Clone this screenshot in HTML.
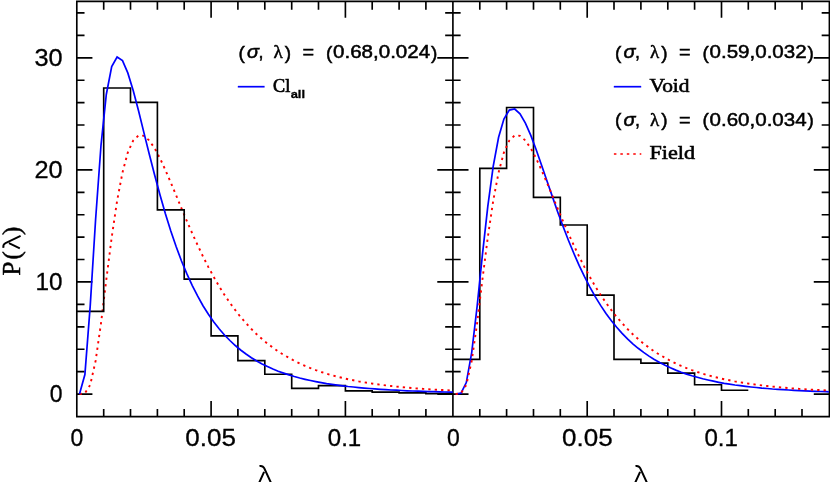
<!DOCTYPE html><html><head><meta charset="utf-8"><style>html,body{margin:0;padding:0;background:#fff;}svg{display:block;will-change:transform;}text{font-family:"Liberation Sans",sans-serif;fill:#000;stroke:#000;stroke-width:0.3px;}.s{font-family:"Liberation Serif",serif;}.lg text{stroke-width:0.5px;}</style></head><body>
<svg width="830" height="482" viewBox="0 0 830 482">
<rect width="830" height="482" fill="#fff"/>
<path d="M76.8 1.3 H829.4 V416.6 H76.8 Z M452.9 1.3 V416.6 M103.7 416.6 v-6.9 M103.7 1.3 v7.6 M130.5 416.6 v-6.9 M130.5 1.3 v7.6 M157.4 416.6 v-6.9 M157.4 1.3 v7.6 M184.2 416.6 v-6.9 M184.2 1.3 v7.6 M211.1 416.6 v-14.8 M211.1 1.3 v15.5 M237.9 416.6 v-6.9 M237.9 1.3 v7.6 M264.8 416.6 v-6.9 M264.8 1.3 v7.6 M291.7 416.6 v-6.9 M291.7 1.3 v7.6 M318.5 416.6 v-6.9 M318.5 1.3 v7.6 M345.4 416.6 v-14.8 M345.4 1.3 v15.5 M372.2 416.6 v-6.9 M372.2 1.3 v7.6 M399.1 416.6 v-6.9 M399.1 1.3 v7.6 M425.9 416.6 v-6.9 M425.9 1.3 v7.6 M479.8 416.6 v-6.9 M479.8 1.3 v7.6 M506.6 416.6 v-6.9 M506.6 1.3 v7.6 M533.5 416.6 v-6.9 M533.5 1.3 v7.6 M560.3 416.6 v-6.9 M560.3 1.3 v7.6 M587.2 416.6 v-14.8 M587.2 1.3 v15.5 M614.0 416.6 v-6.9 M614.0 1.3 v7.6 M640.9 416.6 v-6.9 M640.9 1.3 v7.6 M667.8 416.6 v-6.9 M667.8 1.3 v7.6 M694.6 416.6 v-6.9 M694.6 1.3 v7.6 M721.5 416.6 v-14.8 M721.5 1.3 v15.5 M748.3 416.6 v-6.9 M748.3 1.3 v7.6 M775.2 416.6 v-6.9 M775.2 1.3 v7.6 M802.0 416.6 v-6.9 M802.0 1.3 v7.6 M76.8 394.1 h14.8 M438.1 394.1 h29.6 M829.4 394.1 h-14.8 M76.8 371.6 h6.9 M446.0 371.6 h13.8 M829.4 371.6 h-6.9 M76.8 349.2 h6.9 M446.0 349.2 h13.8 M829.4 349.2 h-6.9 M76.8 326.8 h6.9 M446.0 326.8 h13.8 M829.4 326.8 h-6.9 M76.8 304.4 h6.9 M446.0 304.4 h13.8 M829.4 304.4 h-6.9 M76.8 281.9 h14.8 M438.1 281.9 h29.6 M829.4 281.9 h-14.8 M76.8 259.5 h6.9 M446.0 259.5 h13.8 M829.4 259.5 h-6.9 M76.8 237.1 h6.9 M446.0 237.1 h13.8 M829.4 237.1 h-6.9 M76.8 214.7 h6.9 M446.0 214.7 h13.8 M829.4 214.7 h-6.9 M76.8 192.3 h6.9 M446.0 192.3 h13.8 M829.4 192.3 h-6.9 M76.8 169.8 h14.8 M438.1 169.8 h29.6 M829.4 169.8 h-14.8 M76.8 147.4 h6.9 M446.0 147.4 h13.8 M829.4 147.4 h-6.9 M76.8 125.0 h6.9 M446.0 125.0 h13.8 M829.4 125.0 h-6.9 M76.8 102.6 h6.9 M446.0 102.6 h13.8 M829.4 102.6 h-6.9 M76.8 80.2 h6.9 M446.0 80.2 h13.8 M829.4 80.2 h-6.9 M76.8 57.8 h14.8 M438.1 57.8 h29.6 M829.4 57.8 h-14.8 M76.8 35.3 h6.9 M446.0 35.3 h13.8 M829.4 35.3 h-6.9 M76.8 12.9 h6.9 M446.0 12.9 h13.8 M829.4 12.9 h-6.9" fill="none" stroke="#000" stroke-width="1.65" stroke-linecap="square"/>
<path d="M79.5 394.0 L84.9 393.3 L90.2 384.9 L95.6 360.9 L101.0 323.3 L106.3 279.7 L111.7 237.3 L117.1 200.8 L122.5 172.4 L127.8 152.5 L133.2 140.5 L138.6 135.4 L143.9 135.8 L149.3 140.5 L154.7 148.4 L160.1 158.5 L165.4 170.1 L170.8 182.6 L176.2 195.5 L181.5 208.4 L186.9 221.2 L192.3 233.5 L197.7 245.3 L203.0 256.5 L208.4 267.1 L213.8 277.0 L219.1 286.3 L224.5 294.9 L229.9 302.8 L235.3 310.2 L240.6 317.0 L246.0 323.2 L251.4 329.0 L256.7 334.3 L262.1 339.1 L267.5 343.6 L272.9 347.6 L278.2 351.4 L283.6 354.8 L289.0 357.9 L294.3 360.8 L299.7 363.5 L305.1 365.9 L310.5 368.1 L315.8 370.1 L321.2 372.0 L326.6 373.7 L331.9 375.3 L337.3 376.7 L342.7 378.0 L348.1 379.2 L353.4 380.3 L358.8 381.4 L364.2 382.3 L369.5 383.2 L374.9 384.0 L380.3 384.7 L385.7 385.4 L391.0 386.0 L396.4 386.6 L401.8 387.1 L407.1 387.6 L412.5 388.1 L417.9 388.5 L423.3 388.9 L428.6 389.2 L434.0 389.6 L439.4 389.9 L444.7 390.1 L450.1 390.4 L452.8 390.5" stroke="#ff0000" stroke-width="1.9" stroke-dasharray="2.3 4.1" fill="none"/>
<path d="M76.8 311.4 V311.4 H103.7 V88.0 H130.5 V102.3 H157.4 V209.8 H184.2 V279.1 H211.1 V335.8 H237.9 V360.6 H264.8 V374.2 H291.7 V388.4 H318.5 V385.6 H345.4 V390.9 H372.2 V392.1 H399.1 V392.9 H425.9 V393.6 H452.8" fill="none" stroke="#000" stroke-width="1.65" stroke-linejoin="miter"/>
<path d="M79.5 393.9 L84.9 374.5 L90.2 306.1 L95.6 219.5 L101.0 145.3 L106.3 94.5 L111.7 66.6 L117.1 57.0 L122.5 60.6 L127.8 72.9 L133.2 90.5 L138.6 111.0 L143.9 132.6 L149.3 154.3 L154.7 175.3 L160.1 195.3 L165.4 213.8 L170.8 231.0 L176.2 246.7 L181.5 261.0 L186.9 273.9 L192.3 285.6 L197.7 296.2 L203.0 305.7 L208.4 314.2 L213.8 321.9 L219.1 328.8 L224.5 335.0 L229.9 340.5 L235.3 345.5 L240.6 350.0 L246.0 354.0 L251.4 357.7 L256.7 361.0 L262.1 363.9 L267.5 366.6 L272.9 369.0 L278.2 371.2 L283.6 373.1 L289.0 374.9 L294.3 376.5 L299.7 378.0 L305.1 379.3 L310.5 380.5 L315.8 381.6 L321.2 382.6 L326.6 383.6 L331.9 384.4 L337.3 385.1 L342.7 385.8 L348.1 386.5 L353.4 387.0 L358.8 387.6 L364.2 388.1 L369.5 388.5 L374.9 388.9 L380.3 389.3 L385.7 389.6 L391.0 390.0 L396.4 390.2 L401.8 390.5 L407.1 390.8 L412.5 391.0 L417.9 391.2 L423.3 391.4 L428.6 391.6 L434.0 391.7 L439.4 391.9 L444.7 392.0 L450.1 392.2 L452.8 392.2" stroke="#0000ff" stroke-width="1.7" fill="none" stroke-linejoin="miter"/>
<path d="M452.9 359.3 V359.3 H479.8 V168.3 H506.6 V107.5 H533.5 V197.4 H560.3 V225.0 H587.2 V295.1 H614.0 V359.3 H640.9 V363.1 H667.8 V373.1 H694.6 V384.7 H721.5 V390.2 H748.3" fill="none" stroke="#000" stroke-width="1.65" stroke-linejoin="miter"/>
<path d="M455.6 394.0 L461.0 393.2 L466.3 382.6 L471.7 352.6 L477.1 306.7 L482.4 254.9 L487.8 206.3 L493.2 166.4 L498.6 137.3 L503.9 119.0 L509.3 110.1 L514.7 109.0 L520.0 113.8 L525.4 123.1 L530.8 135.4 L536.2 149.7 L541.5 165.0 L546.9 180.7 L552.3 196.4 L557.6 211.7 L563.0 226.3 L568.4 240.2 L573.8 253.3 L579.1 265.4 L584.5 276.7 L589.9 287.1 L595.2 296.6 L600.6 305.4 L606.0 313.4 L611.4 320.7 L616.7 327.3 L622.1 333.3 L627.5 338.8 L632.8 343.8 L638.2 348.3 L643.6 352.4 L649.0 356.1 L654.3 359.5 L659.7 362.5 L665.1 365.3 L670.4 367.8 L675.8 370.1 L681.2 372.2 L686.6 374.1 L691.9 375.8 L697.3 377.3 L702.7 378.8 L708.0 380.0 L713.4 381.2 L718.8 382.3 L724.2 383.3 L729.5 384.1 L734.9 385.0 L740.3 385.7 L745.6 386.4 L751.0 387.0 L756.4 387.5 L761.8 388.1 L767.1 388.5 L772.5 389.0 L777.9 389.3 L783.2 389.7 L788.6 390.0 L794.0 390.3 L799.4 390.6 L804.7 390.9 L810.1 391.1 L815.5 391.3 L820.8 391.5 L826.2 391.7 L828.9 391.8" stroke="#0000ff" stroke-width="1.7" fill="none" stroke-linejoin="miter"/>
<path d="M455.6 394.0 L461.0 393.3 L466.3 384.9 L471.7 360.9 L477.1 323.3 L482.4 279.7 L487.8 237.3 L493.2 200.8 L498.6 172.4 L503.9 152.5 L509.3 140.5 L514.7 135.4 L520.0 135.8 L525.4 140.5 L530.8 148.4 L536.2 158.5 L541.5 170.1 L546.9 182.6 L552.3 195.5 L557.6 208.4 L563.0 221.2 L568.4 233.5 L573.8 245.3 L579.1 256.5 L584.5 267.1 L589.9 277.0 L595.2 286.3 L600.6 294.9 L606.0 302.8 L611.4 310.2 L616.7 317.0 L622.1 323.2 L627.5 329.0 L632.8 334.3 L638.2 339.1 L643.6 343.6 L649.0 347.6 L654.3 351.4 L659.7 354.8 L665.1 357.9 L670.4 360.8 L675.8 363.5 L681.2 365.9 L686.6 368.1 L691.9 370.1 L697.3 372.0 L702.7 373.7 L708.0 375.3 L713.4 376.7 L718.8 378.0 L724.2 379.2 L729.5 380.3 L734.9 381.4 L740.3 382.3 L745.6 383.2 L751.0 384.0 L756.4 384.7 L761.8 385.4 L767.1 386.0 L772.5 386.6 L777.9 387.1 L783.2 387.6 L788.6 388.1 L794.0 388.5 L799.4 388.9 L804.7 389.2 L810.1 389.6 L815.5 389.9 L820.8 390.1 L826.2 390.4 L828.9 390.5" stroke="#ff0000" stroke-width="1.9" stroke-dasharray="2.3 4.1" fill="none"/>
<path d="M237.8 86.7 H264.6" stroke="#0000ff" stroke-width="1.7" fill="none" stroke-linejoin="miter"/>
<path d="M613.8 86.7 H641.2" stroke="#0000ff" stroke-width="1.7" fill="none" stroke-linejoin="miter"/>
<path d="M613.9 154.0 H641.3" stroke="#ff0000" stroke-width="1.7" stroke-dasharray="2.5 3.95" fill="none"/>
<text x="62.6" y="65.8" font-size="24.2" text-anchor="end" textLength="28.2" lengthAdjust="spacingAndGlyphs">30</text>
<text x="62.6" y="178.0" font-size="24.2" text-anchor="end" textLength="28.2" lengthAdjust="spacingAndGlyphs">20</text>
<text x="62.6" y="290.0" font-size="24.2" text-anchor="end" textLength="27.0" lengthAdjust="spacingAndGlyphs">10</text>
<text x="62.6" y="402.4" font-size="24.2" text-anchor="end" textLength="12.8" lengthAdjust="spacingAndGlyphs">0</text>
<text x="76.8" y="446.4" font-size="24.2" text-anchor="middle" textLength="12.8" lengthAdjust="spacingAndGlyphs">0</text>
<text x="210.6" y="446.4" font-size="24.2" text-anchor="middle" textLength="50.6" lengthAdjust="spacingAndGlyphs">0.05</text>
<text x="344.5" y="446.4" font-size="24.2" text-anchor="middle" textLength="33.5" lengthAdjust="spacingAndGlyphs">0.1</text>
<text x="453.5" y="446.4" font-size="24.2" text-anchor="middle" textLength="12.8" lengthAdjust="spacingAndGlyphs">0</text>
<text x="587.3" y="446.4" font-size="24.2" text-anchor="middle" textLength="50.6" lengthAdjust="spacingAndGlyphs">0.05</text>
<text x="721.2" y="446.4" font-size="24.2" text-anchor="middle" textLength="33.5" lengthAdjust="spacingAndGlyphs">0.1</text>
<path transform="translate(265.0 483.4)" d="M-5.5 -17.4 C-3.2 -17.8 -1.6 -17 -0.8 -15.2 L6.5 0.5 M-0.9 -11.6 L-6.0 -0.3" fill="none" stroke="#000" stroke-width="2" stroke-linecap="butt"/>
<path transform="translate(641.0 483.4)" d="M-5.5 -17.4 C-3.2 -17.8 -1.6 -17 -0.8 -15.2 L6.5 0.5 M-0.9 -11.6 L-6.0 -0.3" fill="none" stroke="#000" stroke-width="2" stroke-linecap="butt"/>
<text class="s" transform="translate(20.2 275.4) rotate(-90)" style="stroke-width:0.5px" font-size="25">P</text>
<text class="s" transform="translate(20.2 259.4) rotate(-90)" style="stroke-width:0.5px" font-size="25">(</text>
<text class="s" transform="translate(20.2 234.9) rotate(-90)" style="stroke-width:0.5px" font-size="25">)</text>
<path transform="translate(20.1 242.3) rotate(-90) scale(1 0.96)" d="M-5.5 -17.4 C-3.2 -17.8 -1.6 -17 -0.8 -15.2 L6.5 0.5 M-0.9 -11.6 L-6.0 -0.3" fill="none" stroke="#000" stroke-width="2" stroke-linecap="butt"/>
<g class="lg" font-size="17.9">
<text x="238.6" y="58.8" font-size="19">(</text>
<text x="246.9" y="58.3" font-style="italic" textLength="12" lengthAdjust="spacingAndGlyphs">σ</text>
<text x="258.6" y="58.3">,</text>
<text x="273.4" y="58.3" class="s" font-size="19">λ</text>
<text x="284.8" y="58.8" font-size="19">)</text>
<text x="302.5" y="58.3" textLength="11.6" lengthAdjust="spacingAndGlyphs">=</text>
<text x="326.1" y="58.8" font-size="19">(</text>
<text x="333.1" y="58.3" textLength="97" lengthAdjust="spacingAndGlyphs">0.68,0.024</text>
<text x="431.1" y="58.8" font-size="19">)</text>
</g>
<g class="lg" font-size="17.9">
<text x="615.1" y="58.8" font-size="19">(</text>
<text x="623.4" y="58.3" font-style="italic" textLength="12" lengthAdjust="spacingAndGlyphs">σ</text>
<text x="635.1" y="58.3">,</text>
<text x="649.9" y="58.3" class="s" font-size="19">λ</text>
<text x="661.3" y="58.8" font-size="19">)</text>
<text x="679.0" y="58.3" textLength="11.6" lengthAdjust="spacingAndGlyphs">=</text>
<text x="702.6" y="58.8" font-size="19">(</text>
<text x="709.6" y="58.3" textLength="97" lengthAdjust="spacingAndGlyphs">0.59,0.032</text>
<text x="807.6" y="58.8" font-size="19">)</text>
</g>
<g class="lg" font-size="17.9">
<text x="615.1" y="126.3" font-size="19">(</text>
<text x="623.4" y="125.8" font-style="italic" textLength="12" lengthAdjust="spacingAndGlyphs">σ</text>
<text x="635.1" y="125.8">,</text>
<text x="649.9" y="125.8" class="s" font-size="19">λ</text>
<text x="661.3" y="126.3" font-size="19">)</text>
<text x="679.0" y="125.8" textLength="11.6" lengthAdjust="spacingAndGlyphs">=</text>
<text x="702.6" y="126.3" font-size="19">(</text>
<text x="709.6" y="125.8" textLength="97" lengthAdjust="spacingAndGlyphs">0.60,0.034</text>
<text x="807.6" y="126.3" font-size="19">)</text>
</g>
<text class="s" x="273" y="91.6" font-size="18.8" style="stroke-width:0.7px" textLength="17.2" lengthAdjust="spacingAndGlyphs">Cl</text>
<text x="290.7" y="97.7" font-size="10.8" font-weight="bold" textLength="14.3" lengthAdjust="spacingAndGlyphs">all</text>
<text class="s" x="649.5" y="92.0" font-size="19.3" style="stroke-width:0.6px" textLength="40" lengthAdjust="spacingAndGlyphs">Void</text>
<text class="s" x="649.5" y="158.9" font-size="19.3" style="stroke-width:0.6px" textLength="45.5" lengthAdjust="spacingAndGlyphs">Field</text>
</svg></body></html>
